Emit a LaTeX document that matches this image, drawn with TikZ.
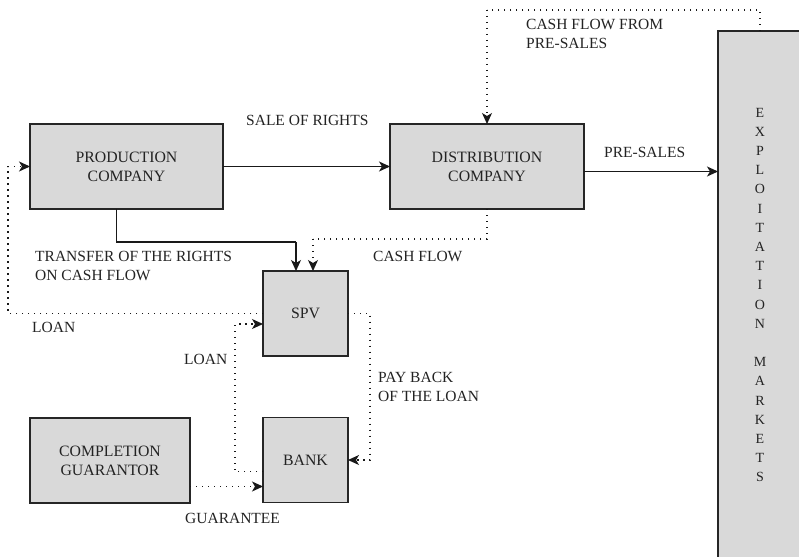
\documentclass[tikz,border=0pt]{standalone}
\usepackage{fontspec}
\setmainfont{Liberation Serif}
\usetikzlibrary{arrows.meta}
\definecolor{boxgray}{RGB}{217,217,217}
\definecolor{txt}{RGB}{35,35,35}
\tikzset{
  box/.style={draw=black!85, line width=1.4pt, fill=boxgray, inner sep=0pt, outer sep=0pt,
    align=center, text=txt, font=\fontsize{15.8}{19}\selectfont},
  lbl/.style={anchor=west, inner sep=0pt, align=left, text=txt, font=\fontsize{15.5}{19}\selectfont},
  solidarrow/.style={line width=1.2pt, draw=black!90, -{Stealth[length=11pt,width=10pt,inset=3pt]}},
  dotarrow/.style={line width=1.2pt, draw=black!90, dash pattern=on 1.2pt off 4.8pt, -{Stealth[length=11pt,width=10pt,inset=3pt]}},
  dotline/.style={line width=1.2pt, draw=black!90, dash pattern=on 1.2pt off 4.8pt},
  solidline/.style={line width=1.2pt, draw=black!90}
}
\begin{document}
\begin{tikzpicture}[x=1pt,y=-1pt]
\clip (0,0) rectangle (799,556);
\fill[white] (0,0) rectangle (799,556);

% boxes
\node[box, minimum width=193pt, minimum height=85pt] (prod) at (126.5,166.5) {PRODUCTION\\COMPANY};
\node[box, minimum width=194pt, minimum height=85pt] (dist) at (487,166.5) {DISTRIBUTION\\COMPANY};
\node[box, minimum width=85pt, minimum height=85pt] (spv) at (305.5,313.5) {SPV};
\node[box, minimum width=85pt, minimum height=85pt] (bank) at (305.5,460) {BANK};
\node[box, minimum width=160pt, minimum height=85pt] (comp) at (110,460.5) {COMPLETION\\GUARANTOR};
\node[box, minimum width=180pt, minimum height=600pt] (exp) at (808,331) {};
\node[inner sep=0pt, align=center, text=txt, font=\fontsize{14}{19.2}\selectfont] (exptext) at (760,295)
  {E\\X\\P\\L\\O\\I\\T\\A\\T\\I\\O\\N\\[19.2pt]M\\A\\R\\K\\E\\T\\S};

% helper coordinates
\coordinate (c1) at (296,242);
\coordinate (c2) at (313,239);
\coordinate (c3) at (8,240);
\coordinate (c4) at (235,400);
\coordinate (c5) at (370,400);
\coordinate (c6) at (760,10);
\coordinate (c7) at (487,10);

% connectors
\draw[solidarrow] (prod.east) -- (dist.west);
\draw[solidline] ([xshift=-9.8pt]prod.south) |- (c1);
\draw[solidarrow] (c1) -- (c1 |- spv.north);
\draw[dotline] (dist.south) |- (c2);
\draw[dotarrow] (c2) -- (c2 |- spv.north);
\draw[dotarrow] (spv.west) -| (c3) |- (prod.west);
\draw[dotarrow] ([yshift=-11.7pt]bank.west) -| (c4) |- ([yshift=-10.5pt]spv.west);
\draw[dotarrow] (spv.east) -| (c5) |- (bank.east);
\draw[dotarrow] ([yshift=-26pt]comp.east) -- ([yshift=-26pt]comp.east -| bank.west);
\draw[solidarrow] ([yshift=-5pt]dist.east) -- ([yshift=-5pt]dist.east -| exp.west);
\draw[dotline] (c6 |- exp.north) -- (c6) -- (c7);
\draw[dotarrow] (c7) -- (dist.north);

% labels
\node[lbl] (l1) at (246,120) {SALE OF RIGHTS};
\node[lbl] (l2) at (35,266) {TRANSFER OF THE RIGHTS\\ON CASH FLOW};
\node[lbl] (l3) at (373,256) {CASH FLOW};
\node[lbl] (l4) at (32,327) {LOAN};
\node[lbl] (l5) at (184,359) {LOAN};
\node[lbl] (l6) at (378,387) {PAY BACK\\OF THE LOAN};
\node[lbl] (l7) at (185,518) {GUARANTEE};
\node[lbl] (l8) at (604,152) {PRE-SALES};
\node[lbl] (l9) at (526,34) {CASH FLOW FROM\\PRE-SALES};
\end{tikzpicture}
\end{document}
